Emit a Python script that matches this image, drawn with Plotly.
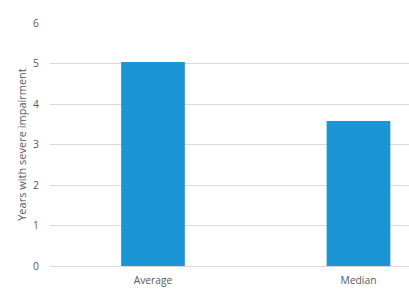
import plotly.graph_objects as go

categories = ["Average", "Median"]
values = [5.04, 3.58]
y_ticks = [0, 1, 2, 3, 4, 5, 6]

fig = go.Figure(go.Bar(x=[0, 1], y=values, marker_color="#1B95D3", width=0.31,
                       marker_line_width=0))
font = dict(family="Open Sans, DejaVu Sans, sans-serif", size=10, color="#595959")
fig.update_layout(
    width=409, height=306, margin=dict(l=50, r=0, t=23, b=40),
    paper_bgcolor="white", plot_bgcolor="white", showlegend=False, font=font,
    xaxis=dict(range=[-0.5012, 1.2457], tickmode="array", tickvals=[0, 1],
               ticktext=categories, showgrid=False, zeroline=False,
               ticks="outside", ticklen=5, tickcolor="rgba(0,0,0,0)",
               tickfont=dict(size=10.3),
               showline=True, linecolor="#d9d9d9", linewidth=1),
    yaxis=dict(range=[0, 6], tickvals=y_ticks, showgrid=True, gridcolor="#d9d9d9",
               zeroline=False, ticks="outside", ticklen=8, tickcolor="rgba(0,0,0,0)",
               tickfont=dict(size=10.3),
               title=dict(text="Years with severe impairment", standoff=4,
                          font=dict(size=11, color="#595959"))),
)
fig.write_html("out.html")
